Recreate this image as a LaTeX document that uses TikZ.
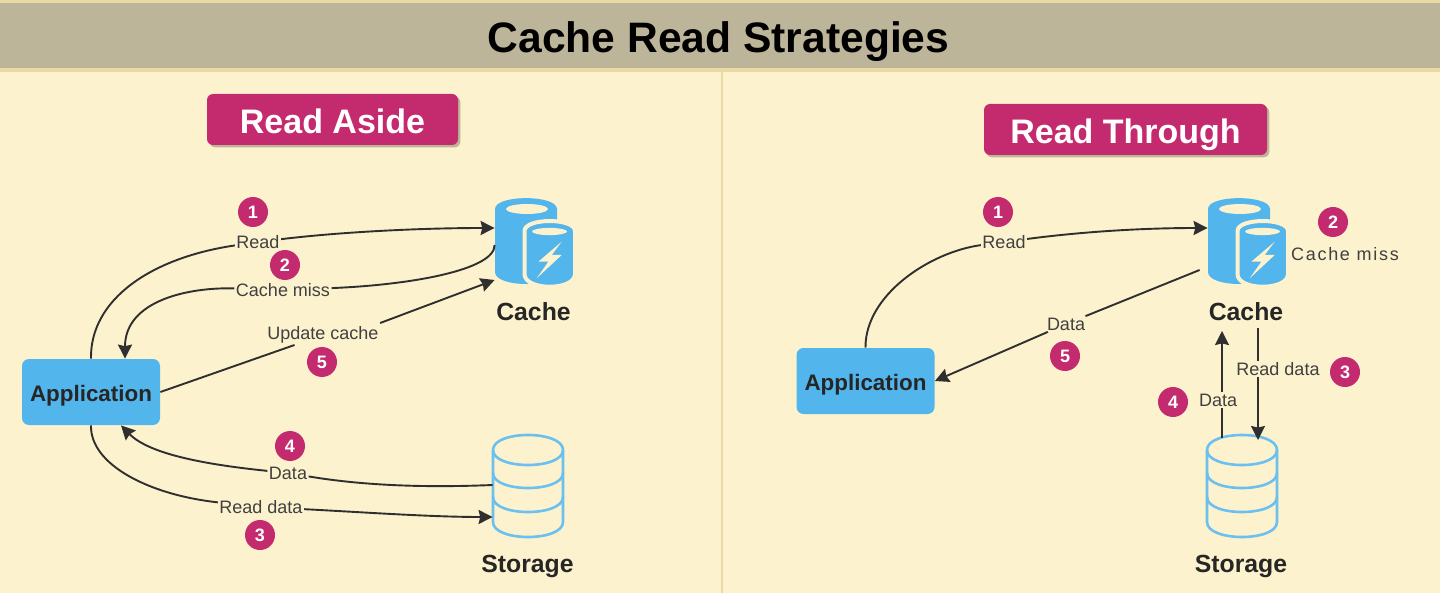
\documentclass[tikz,border=0pt]{standalone}
\usepackage{fontspec}
\setmainfont{Liberation Sans}
\usetikzlibrary{arrows.meta,shadows}
\definecolor{bgc}{HTML}{FDF2CE}
\definecolor{bandc}{HTML}{BDB59A}
\definecolor{edgec}{HTML}{E9D9A2}
\definecolor{pinkc}{HTML}{C42B6E}
\definecolor{bluec}{HTML}{52B5EC}
\definecolor{linec}{HTML}{2F2F2F}
\tikzset{
  x=0.5pt,y=-0.5pt,
  conn/.style={draw=linec,line width=0.95pt},
  arr/.style={conn,-{Stealth[length=7pt,width=7pt,inset=0.8pt]}},
  lbl/.style={font=\fontsize{9}{10}\selectfont,text=black!75,inner sep=0.6pt},
  appbox/.style={fill=bluec,rounded corners=3.5pt,minimum width=69pt,minimum height=33pt,inner sep=0pt,text height=11pt,text depth=2pt,font=\bfseries\fontsize{11.2}{12}\selectfont,text=black!85},
  iconbox/.style={inner sep=0pt,minimum width=#1},
  pill/.style={fill=pinkc,rounded corners=3pt,text=white,inner sep=0pt,minimum height=25.5pt,text height=15pt,text depth=1.2pt,font=\bfseries\fontsize{17}{19}\selectfont,drop shadow={shadow xshift=1.2pt,shadow yshift=-1.2pt,fill=black,opacity=.25}},
  badge/.style={circle,fill=pinkc,text=white,minimum size=15pt,inner sep=0pt,font=\bfseries\fontsize{9}{10}\selectfont},
  captext/.style={font=\bfseries\fontsize{12.4}{14}\selectfont,text=black!85},
}
\newcommand{\cacheicon}{%
  \fill[bluec] (495,209) .. controls (495,194.5) and (557,194.5) .. (557,209) -- (557,272)
     .. controls (557,288) and (495,288) .. (495,272) -- cycle;
  \fill[bgc] (527,209) ellipse (21 and 5);
  \path[fill=bluec,draw=bgc,line width=2pt] (524.5,231) .. controls (524.5,217.7) and (575,217.7) .. (575,231) -- (575,274)
     .. controls (575,291) and (524.5,291) .. (524.5,274) -- cycle;
  \fill[bgc] (549.5,231.5) ellipse (17.5 and 3.6);
  \fill[bgc] (561.7,241.7) -- (538.3,261.7) -- (548.3,261.7) -- (536.7,278.3) -- (561.7,255) -- (551.7,255) -- cycle;
}
\newcommand{\storageicon}{%
  \begin{scope}[draw=bluec!85!white,line width=1.3pt]
  \draw (493,450) .. controls (493,430) and (563,430) .. (563,450)
     .. controls (563,470) and (493,470) .. (493,450);
  \draw (493,450) -- (493,522) .. controls (493,542) and (563,542) .. (563,522) -- (563,450);
  \draw (493,473) .. controls (493,493) and (563,493) .. (563,473);
  \draw (493,497) .. controls (493,517) and (563,517) .. (563,497);
  \end{scope}
}
\begin{document}
\begin{tikzpicture}
\useasboundingbox (0,0) rectangle (1440,593);
\fill[bgc] (0,0) rectangle (1440,593);
\fill[edgec] (0,0) rectangle (1440,72);
\fill[bandc] (0,3) rectangle (1440,68.5);
\node[font=\bfseries\fontsize{21.3}{24}\selectfont,text=black,text height=16pt,text depth=0.5pt,inner sep=0pt] (title) at (718.5,37) {Cache Read Strategies};
\coordinate (divtop) at (722,70);
\coordinate (divbot) at (722,593);
\draw[edgec,line width=1.2pt] (divtop) -- (divbot);

\node[pill,minimum width=125.5pt] (pillL) at (332.5,119.5) {Read Aside};
\node[pill,minimum width=141.5pt] (pillR) at (1125.5,129.5) {Read Through};

% left icons
\cacheicon
\storageicon
\node[iconbox=38.5pt,minimum height=43pt] (cacheL) at (533.5,242) {};
\node[iconbox=35pt,minimum height=51pt] (storeL) at (528,486) {};
\node[captext] (cacheLcap) at (533.5,312) {Cache};
\node[captext] (storeLcap) at (527.5,566) {Storage};
\node[appbox] (appL) at (91,392) {Application};

% right icons
\begin{scope}[shift={(713,0)}]
\cacheicon
\end{scope}
\begin{scope}[shift={(714,0)}]
\storageicon
\end{scope}
\node[iconbox=38.5pt,minimum height=43pt] (cacheR) at (1246.5,242) {};
\node[iconbox=35pt,minimum height=51pt] (storeR) at (1242,486) {};
\node[captext] (cacheRcap) at (1246,312) {Cache};
\node[captext] (storeRcap) at (1241,566) {Storage};
\node[appbox] (appR) at (865.5,381) {Application};

% left labels
\node[lbl] (l1) at (258,242) {Read};
\node[lbl] (l2) at (283,290) {Cache miss};
\node[lbl] (l5) at (323,335) {Update cache};
\node[lbl] (l4) at (288,473) {Data};
\node[lbl] (l3) at (261,507) {Read data};

% left connectors
\draw[conn] (appL.north) .. controls (90,300) and (150,258) .. (l1);
\draw[arr] (l1) .. controls (340,232) and (420,228) .. ([yshift=7pt]cacheL.west);
\draw[conn] ([yshift=-1.5pt]cacheL.west) .. controls (495,270) and (410,285) .. (l2);
\draw[arr] (l2) .. controls (190,287) and (125,300) .. ([xshift=17pt]appL.north);
\draw[conn] (appL.east) -- (l5);
\draw[arr] ([yshift=1pt]l5.north east) -- ([yshift=-19pt]cacheL.west);
\draw[conn] ([yshift=0.5pt]storeL.west) .. controls (420,488) and (360,485) .. (l4);
\draw[arr] (l4) .. controls (210,465) and (150,455) .. ([xshift=15pt]appL.south);
\draw[conn] (appL.south) .. controls (90,465) and (150,495) .. (l3);
\draw[arr] (l3) .. controls (360,512) and (430,517) .. ([yshift=-15.5pt]storeL.west);

% right labels
\node[lbl] (r1) at (1004,242) {Read};
\node[lbl] (r2) at (1345,254) {\addfontfeature{LetterSpace=9.5}Cache miss};
\node[lbl] (r5) at (1066,324) {Data};
\node[lbl] (r3) at (1278,369) {Read data};
\node[lbl] (r4) at (1218,400) {Data};

% right connectors
\draw[conn] (appR.north) .. controls (865,295) and (930,252) .. (r1);
\draw[arr] (r1) .. controls (1080,232) and (1140,228) .. ([yshift=7pt]cacheR.west);
\draw[conn] ([xshift=-4pt,yshift=-14pt]cacheR.west) -- (r5);
\draw[arr] (r5) -- ([yshift=0pt]appR.east);
\coordinate (d4a) at (1222,438);
\coordinate (d4b) at (1222,331);
\draw[conn] (d4a) -- (d4a |- r4.south);
\draw[arr] (d4b |- r4.north) -- (d4b);
\coordinate (d3a) at (1258,328);
\coordinate (d3b) at (1258,440);
\draw[conn] (d3a) -- (d3a |- r3.north);
\draw[arr] (d3b |- r3.south) -- (d3b);

% badges
\node[badge] (b1) at (253,212) {1};
\node[badge] (b2) at (285,265) {2};
\node[badge] (b5) at (322,362) {5};
\node[badge] (b4) at (290,446) {4};
\node[badge] (b3) at (260,535) {3};
\node[badge] (c1) at (998,212) {1};
\node[badge] (c2) at (1333,222) {2};
\node[badge] (c5) at (1065,356) {5};
\node[badge] (c3) at (1345,372) {3};
\node[badge] (c4) at (1173,402) {4};
\end{tikzpicture}
\end{document}
